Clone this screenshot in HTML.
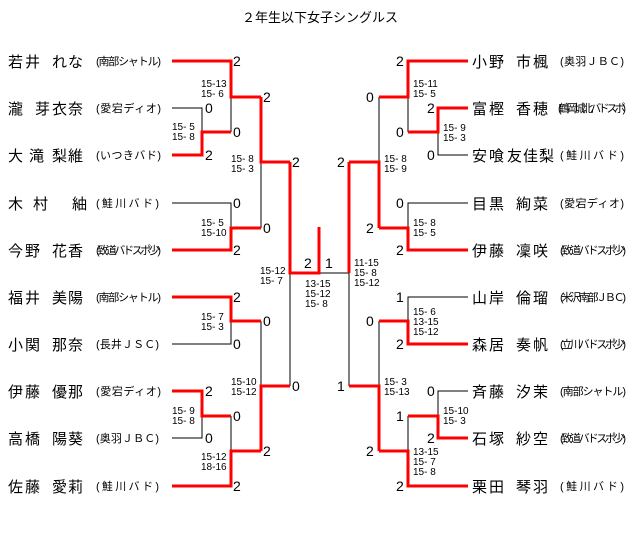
<!DOCTYPE html>
<html><head><meta charset="utf-8"><style>
body{margin:0;background:#fff}
svg{display:block}
text{font-family:"Liberation Sans","Noto Sans CJK JP",sans-serif;fill:#000}
.n{font-size:15px}
.c{font-size:11px}
.s{font-size:14px}
.m{font-size:10px}
.r{stroke:#f00;stroke-width:3;fill:none}
.b{stroke:#000;stroke-width:1;fill:none}
</style></head><body>
<svg width="640" height="533" viewBox="0 0 640 533" xmlns="http://www.w3.org/2000/svg">
<text x="320" y="22" font-size="13" text-anchor="middle">２年生以下女子シングルス</text>

<!-- left names -->
<g class="n">
<text x="8 25 52 68" y="67">若井れな</text>
<text x="8 35 52 68" y="114">瀧芽衣奈</text>
<text x="8 29 52 68" y="161">大滝梨維</text>
<text x="8 33 72" y="209">木村紬</text>
<text x="8 25 52 68" y="256">今野花香</text>
<text x="8 25 52 68" y="303">福井美陽</text>
<text x="8 25 52 68" y="350">小関那奈</text>
<text x="8 25 52 68" y="397">伊藤優那</text>
<text x="8 25 52 68" y="444">高橋陽葵</text>
<text x="8 25 52 68" y="492">佐藤愛莉</text>
</g>
<g class="c">
<text x="96" y="65" textLength="65">(南部シャトル)</text>
<text x="96" y="112" textLength="65">(愛宕ディオ)</text>
<text x="96" y="159" textLength="65">(いつきバド)</text>
<text x="96" y="207" textLength="63">(鮭川バド)</text>
<text x="96" y="254" textLength="65">(致道バドスポ少)</text>
<text x="96" y="301" textLength="65">(南部シャトル)</text>
<text x="96" y="348" textLength="63">(長井ＪＳＣ)</text>
<text x="96" y="395" textLength="65">(愛宕ディオ)</text>
<text x="96" y="442" textLength="63">(奥羽ＪＢＣ)</text>
<text x="96" y="490" textLength="63">(鮭川バド)</text>
</g>

<!-- right names -->
<g class="n">
<text x="472 489 516 533" y="67">小野市楓</text>
<text x="472 489 516 533" y="114">富樫香穂</text>
<text x="472 489 507 523 539" y="161">安喰友佳梨</text>
<text x="472 489 516 533" y="209">目黒絢菜</text>
<text x="472 489 516 533" y="256">伊藤凜咲</text>
<text x="472 489 516 533" y="303">山岸倫瑠</text>
<text x="472 489 516 533" y="350">森居奏帆</text>
<text x="472 489 516 533" y="397">斉藤汐茉</text>
<text x="472 489 516 533" y="444">石塚紗空</text>
<text x="472 489 516 533" y="492">栗田琴羽</text>
</g>
<g class="c">
<text x="560" y="65" textLength="64">(奥羽ＪＢＣ)</text>
<text x="558" y="112" textLength="68">(鶴岡城北バドスポ)</text>
<text x="560" y="159" textLength="64">(鮭川バド)</text>
<text x="560" y="207" textLength="64">(愛宕ディオ)</text>
<text x="560" y="254" textLength="66">(致道バドスポ少)</text>
<text x="560" y="301" textLength="66">(米沢南部ＪＢＣ)</text>
<text x="560" y="348" textLength="66">(立川バドスポ少)</text>
<text x="560" y="395" textLength="66">(南部シャトル)</text>
<text x="560" y="442" textLength="66">(致道バドスポ少)</text>
<text x="560" y="490" textLength="64">(鮭川バド)</text>
</g>

<!-- left black lines -->
<path class="b" d="M172 108H202V155 M202 132V155 M231 61V132 M172 203H231V250 M261 97V228 M172 344H231V321 M172 438H202V391 M231 416V486 M261 321V451 M290 162V386 M290 273H349"/>
<!-- left red -->
<path class="r" d="M172 61H231V97H261 M172 155H202V132H231 M172 250H231V228H261 M261 97V162H290 M172 297H231V321H261 M172 391H202V416H231 M172 486H231V451H261 M261 451V386H290 M290 162V273H319V227"/>

<!-- right black lines -->
<path class="b" d="M468 155H438V108 M408 61V132 M468 203H408V250 M379 97V228 M468 297H408V344 M468 391H438V438 M408 416V486 M379 321V451 M349 162V386"/>
<!-- right red -->
<path class="r" d="M468 61H408V97H379 M468 108H438V132H408 M468 250H408V228H379 M379 228V162H349 M349 162V273 M468 344H408V321H379 M468 438H438V416H408 M468 486H408V451H379 M379 451V386H349"/>

<!-- left scores -->
<g class="s">
<text x="233" y="66">2</text>
<text x="205" y="113">0</text>
<text x="233" y="137">0</text>
<text x="205" y="160">2</text>
<text x="263" y="102">2</text>
<text x="233" y="208">0</text>
<text x="263" y="233">0</text>
<text x="233" y="255">2</text>
<text x="292" y="167">2</text>
<text x="233" y="302">2</text>
<text x="263" y="326">0</text>
<text x="233" y="349">0</text>
<text x="205" y="396">2</text>
<text x="233" y="421">0</text>
<text x="205" y="443">0</text>
<text x="263" y="456">2</text>
<text x="233" y="491">2</text>
<text x="292" y="391">0</text>
<text x="304" y="268">2</text>
<text x="325" y="268">1</text>
<!-- right -->
<text x="396" y="66">2</text>
<text x="427" y="113">2</text>
<text x="396" y="137">0</text>
<text x="427" y="160">0</text>
<text x="366" y="102">0</text>
<text x="396" y="208">0</text>
<text x="366" y="233">2</text>
<text x="396" y="255">2</text>
<text x="337" y="167">2</text>
<text x="396" y="302">1</text>
<text x="366" y="326">0</text>
<text x="396" y="349">2</text>
<text x="427" y="396">0</text>
<text x="396" y="421">1</text>
<text x="427" y="443">2</text>
<text x="366" y="456">2</text>
<text x="396" y="491">2</text>
<text x="337" y="391">1</text>
</g>

<!-- match scores -->
<g class="m">
<text x="201" y="87">15-13</text><text x="201" y="97">15- 6</text>
<text x="172" y="130">15- 5</text><text x="172" y="140">15- 8</text>
<text x="231" y="162">15- 8</text><text x="231" y="172">15- 3</text>
<text x="201" y="226">15- 5</text><text x="201" y="236">15-10</text>
<text x="260" y="274">15-12</text><text x="260" y="284">15- 7</text>
<text x="201" y="320">15- 7</text><text x="201" y="330">15- 3</text>
<text x="231" y="385">15-10</text><text x="231" y="395">15-12</text>
<text x="172" y="414">15- 9</text><text x="172" y="424">15- 8</text>
<text x="201" y="460">15-12</text><text x="201" y="470">18-16</text>
<text x="305" y="287">13-15</text><text x="305" y="297">15-12</text><text x="305" y="307">15- 8</text>
<text x="354" y="266">11-15</text><text x="354" y="276">15- 8</text><text x="354" y="286">15-12</text>
<text x="413" y="87">15-11</text><text x="413" y="97">15- 5</text>
<text x="443" y="131">15- 9</text><text x="443" y="141">15- 3</text>
<text x="384" y="162">15- 8</text><text x="384" y="172">15- 9</text>
<text x="413" y="226">15- 8</text><text x="413" y="236">15- 5</text>
<text x="413" y="315">15- 6</text><text x="413" y="325">13-15</text><text x="413" y="335">15-12</text>
<text x="384" y="385">15- 3</text><text x="384" y="395">15-13</text>
<text x="443" y="414">15-10</text><text x="443" y="424">15- 3</text>
<text x="413" y="455">13-15</text><text x="413" y="465">15- 7</text><text x="413" y="475">15- 8</text>
</g>
</svg>
</body></html>
